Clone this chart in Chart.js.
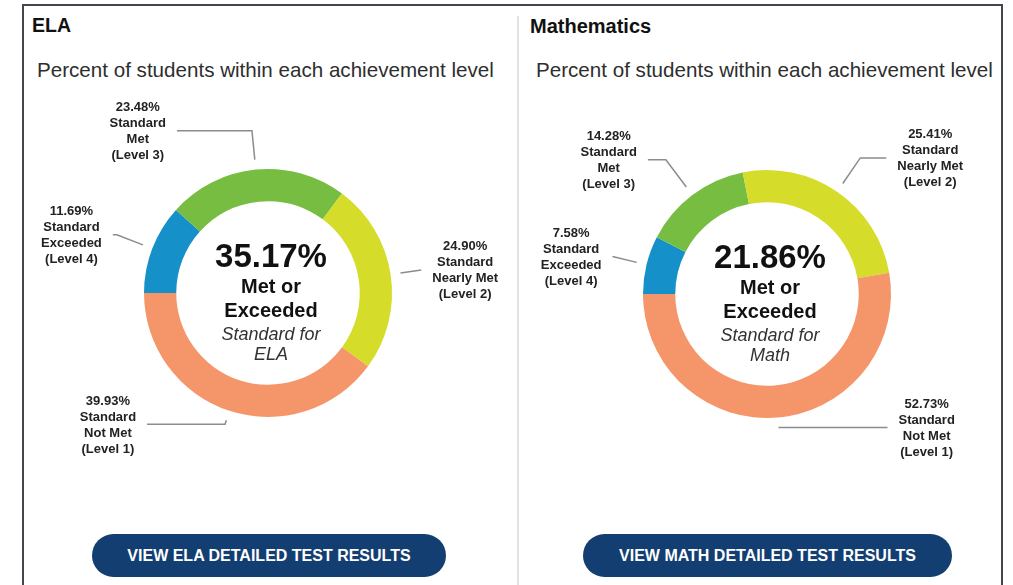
<!DOCTYPE html>
<html>
<head>
<meta charset="utf-8">
<script src="https://cdn.jsdelivr.net/npm/chart.js@4.4.1/dist/chart.umd.min.js"></script>
<style>
  html, body { margin: 0; padding: 0; background: #ffffff; width: 1013px; height: 585px; overflow: hidden; }
  body { position: relative; font-family: "Liberation Sans", Arial, sans-serif; }
  .frame { position: absolute; left: 22px; top: 4px; width: 977px; height: 620px; border: 2px solid #41474c; }
  .divider { position: absolute; left: 517px; top: 16px; width: 2px; height: 600px; background: #e2e2e2; }
  .title { position: absolute; font-weight: bold; color: #111; line-height: 1; white-space: nowrap; }
  .sub { position: absolute; color: #2e2e2e; line-height: 1; font-size: 20.6px; white-space: nowrap; }
  .btn { position: absolute; top: 534px; height: 43px; border-radius: 22px; background: #123e72;
         color: #fff; font-weight: bold; font-size: 16px; display: flex; align-items: center; justify-content: center; white-space: nowrap; }
  canvas { position: absolute; top: 0; }
</style>
</head>
<body>
<div class="frame"></div>
<div class="divider"></div>
<div class="title" style="left:32px; top:16px; font-size:19.5px;">ELA</div>
<div class="title" style="left:530px; top:16px; font-size:20px;">Mathematics</div>
<div class="sub" style="left:37px; top:60px;">Percent of students within each achievement level</div>
<div class="sub" style="left:536px; top:60px;">Percent of students within each achievement level</div>
<canvas id="ela" width="518" height="530" style="left:0px;"></canvas>
<canvas id="math" width="495" height="530" style="left:518px;"></canvas>
<div class="btn" style="left:92px; width:354px;">VIEW ELA DETAILED TEST RESULTS</div>
<div class="btn" style="left:583px; width:369px;">VIEW MATH DETAILED TEST RESULTS</div>
<script>
// ---- data (order: Level 4, Level 3, Level 2, Level 1) ----
const levelNames = [
  ["Standard", "Exceeded", "(Level 4)"],
  ["Standard", "Met", "(Level 3)"],
  ["Standard", "Nearly Met", "(Level 2)"],
  ["Standard", "Not Met", "(Level 1)"]
];
const elaValues  = [11.69, 23.48, 24.90, 39.93];
const mathValues = [7.58, 14.28, 25.41, 52.73];
const levelColors = ["#1590c9", "#77bd42", "#d5dc2a", "#f5956a"];
const elaSubject = "ELA";
const mathSubject = "Math";

// ---- leader-line layout (offsets beyond outer radius, horizontal leg) ----
const elaElbow  = [38, 39, 31, 14];
const elaLeg    = [4, 75, 0, 78];
const mathElbow = [35, 44, 41, 10];
const mathLeg   = [0, 18, 26, 109];

const FONT = '"Liberation Sans", Arial, sans-serif';

const donutText = {
  id: 'donutText',
  afterDatasetsDraw(chart, args, opts) {
    const ctx = chart.ctx;
    const meta = chart.getDatasetMeta(0);
    const vals = chart.data.datasets[0].data;
    let cx = 0, cy = 0;
    ctx.save();
    meta.data.forEach((arc, i) => {
      const p = arc.getProps(['x', 'y', 'startAngle', 'endAngle', 'outerRadius'], true);
      cx = p.x; cy = p.y;
      const mid = (p.startAngle + p.endAngle) / 2;
      const ux = Math.cos(mid), uy = Math.sin(mid);
      const r0 = p.outerRadius + opts.startGap;
      const re = p.outerRadius + opts.elbow[i];
      const x0 = p.x + ux * r0, y0 = p.y + uy * r0;
      const xe = p.x + ux * re, ye = p.y + uy * re;
      const side = ux >= 0 ? 1 : -1;
      const xl = xe + side * opts.leg[i];
      ctx.strokeStyle = '#8c8c8c';
      ctx.lineWidth = 1.5;
      ctx.beginPath();
      ctx.moveTo(x0, y0);
      ctx.lineTo(xe, ye);
      ctx.lineTo(xl, ye);
      ctx.stroke();
      const lines = [vals[i].toFixed(2) + '%'].concat(levelNames[i]);
      ctx.font = 'bold 13px ' + FONT;
      let w = 0;
      lines.forEach(t => { w = Math.max(w, ctx.measureText(t).width); });
      const tx = xl + side * (opts.gap + w / 2);
      ctx.fillStyle = '#222';
      ctx.textAlign = 'center';
      ctx.textBaseline = 'alphabetic';
      lines.forEach((t, k) => {
        ctx.fillText(t, tx, ye + (k - 1.5) * 16 + 4.5);
      });
    });
    // center text
    const met = vals[0] + vals[1];
    const tx = cx + opts.textDx;
    ctx.textAlign = 'center';
    ctx.textBaseline = 'alphabetic';
    ctx.fillStyle = '#111';
    ctx.font = 'bold 33px ' + FONT;
    ctx.fillText(met.toFixed(2) + '%', tx, cy - 26);
    ctx.font = 'bold 20px ' + FONT;
    ctx.fillText('Met or', tx, cy);
    ctx.fillText('Exceeded', tx, cy + 24);
    ctx.fillStyle = '#333';
    ctx.font = 'italic 18px ' + FONT;
    ctx.fillText('Standard for', tx, cy + 46.5);
    ctx.fillText(opts.subject, tx, cy + 66.5);
    ctx.restore();
  }
};

function makeChart(id, values, pad, elbow, leg, subject) {
  return new Chart(document.getElementById(id), {
    type: 'doughnut',
    data: {
      labels: levelNames.map(n => n.join(' ')),
      datasets: [{
        data: values,
        backgroundColor: levelColors,
        borderWidth: 0,
        hoverOffset: 0,
        offset: 0
      }]
    },
    options: {
      responsive: false,
      animation: false,
      devicePixelRatio: 1,
      rotation: 270,
      cutout: '74%',
      layout: { padding: pad },
      plugins: {
        legend: { display: false },
        tooltip: { enabled: false },
        donutText: { elbow: elbow, leg: leg, startGap: 10, gap: 11, subject: subject, textDx: 3 }
      },
      events: []
    },
    plugins: [donutText]
  });
}

makeChart('ela', elaValues, { left: 144, right: 126, top: 169, bottom: 113 }, elaElbow, elaLeg, elaSubject);
makeChart('math', mathValues, { left: 125, right: 122, top: 170, bottom: 112 }, mathElbow, mathLeg, mathSubject);
</script>
</body>
</html>
